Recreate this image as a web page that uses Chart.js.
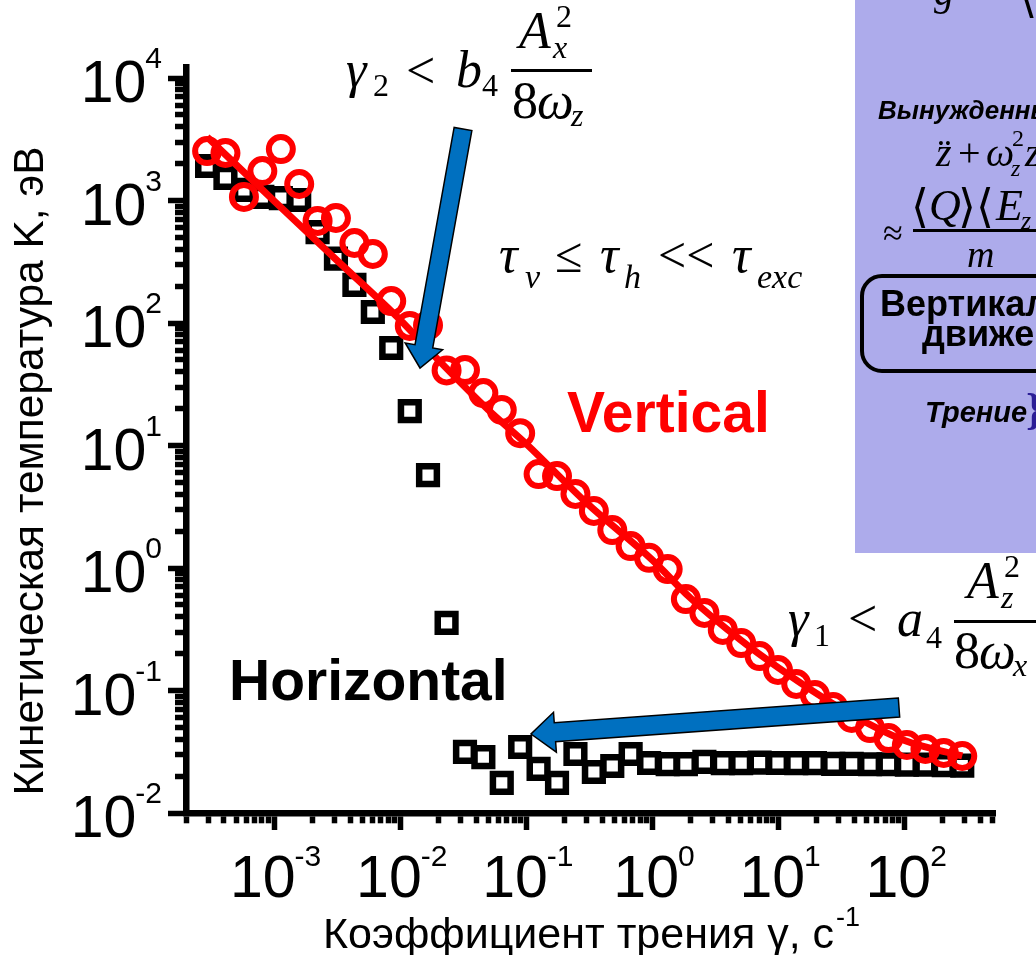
<!DOCTYPE html>
<html><head><meta charset="utf-8">
<script src="https://cdn.jsdelivr.net/npm/chart.js@4.4.1/dist/chart.umd.min.js"></script>
<style>html,body{margin:0;padding:0;background:#fff;overflow:hidden}#wrap{width:1036px;height:955px}</style>
</head><body><div id="wrap"><canvas id="c" width="1036" height="955"></canvas></div>
<script>
// ---- data ----
const gammaValues = [2.94e-4, 4.11e-4, 5.76e-4, 8.06e-4, 1.13e-3, 1.58e-3, 2.21e-3, 3.09e-3, 4.33e-3, 6.06e-3,
  8.48e-3, 1.19e-2, 1.66e-2, 2.33e-2, 3.26e-2, 4.56e-2, 6.38e-2, 8.93e-2, 0.125, 0.175,
  0.245, 0.343, 0.480, 0.671, 0.940, 1.32, 1.84, 2.58, 3.61, 5.05,
  7.07, 9.89, 13.8, 19.4, 27.1, 38.0, 53.1, 74.4, 104, 146, 204, 286];
const verticalK = [2535, 2443, 1069, 1741, 2630, 1364, 681, 720, 450, 366,
  151, 94.6, 96, 41.0, 41.3, 26.8, 19.5, 12.6, 5.85, 5.63,
  4.02, 2.92, 2.04, 1.51, 1.21, 0.98, 0.558, 0.430, 0.312, 0.244,
  0.191, 0.147, 0.113, 0.0919, 0.0733, 0.0597, 0.0494, 0.0409, 0.0359, 0.0333, 0.0309, 0.0292];
const horizontalK = [1914, 1528, 1220, 1069, 1047, 1009, 552, 335, 205, 123,
  62.5, 19.1, 5.74, 0.356, 0.0315, 0.0286, 0.0176, 0.0346, 0.0229, 0.0176,
  0.0303, 0.0216, 0.0242, 0.0303, 0.0256, 0.0251, 0.0251, 0.0261, 0.0255, 0.0255,
  0.0258, 0.0256, 0.0255, 0.0255, 0.0252, 0.0252, 0.0250, 0.0250, 0.0248, 0.0248, 0.0246, 0.0244];
const fitGamma = [2.94e-4, 1e-3, 3e-3, 1e-2, 2e-2, 5e-2, 0.1, 0.3, 1, 2, 5, 10, 30, 100, 286];
const fitK = [3300, 990, 340, 106, 50, 19.5, 10.3, 3.4, 1.16, 0.569, 0.258, 0.153, 0.073, 0.039, 0.0292];
const xTickExponents = [-3, -2, -1, 0, 1, 2];
const yTickExponents = [-2, -1, 0, 1, 2, 3, 4];
const xAxisTitle = 'Коэффициент трения γ, с';
const xAxisTitleSup = '-1';
const yAxisTitle = 'Кинетическая температура K, эВ';

const SANS = '"Liberation Sans", Arial, sans-serif';
const SERIF = '"Liberation Serif", "Times New Roman", serif';

function logTicks(min, max) {
  const out = [];
  const e0 = Math.floor(Math.log10(min)), e1 = Math.ceil(Math.log10(max));
  for (let e = e0; e <= e1; e++) {
    for (let m = 1; m <= 9; m++) {
      const v = m * Math.pow(10, e);
      if (v >= min * 0.999 && v <= max * 1.001) out.push({value: v, major: m === 1});
    }
  }
  return out;
}

function arrow(ctx, x0, y0, x1, y1, sw, hw, hl) {
  const dx = x1 - x0, dy = y1 - y0, L = Math.hypot(dx, dy), ux = dx / L, uy = dy / L, nx = -uy, ny = ux;
  const bx = x1 - ux * hl, by = y1 - uy * hl;
  ctx.beginPath();
  ctx.moveTo(x0 + nx * sw / 2, y0 + ny * sw / 2);
  ctx.lineTo(bx + nx * sw / 2, by + ny * sw / 2);
  ctx.lineTo(bx + nx * hw / 2, by + ny * hw / 2);
  ctx.lineTo(x1, y1);
  ctx.lineTo(bx - nx * hw / 2, by - ny * hw / 2);
  ctx.lineTo(bx - nx * sw / 2, by - ny * sw / 2);
  ctx.lineTo(x0 - nx * sw / 2, y0 - ny * sw / 2);
  ctx.closePath();
  ctx.fillStyle = '#0070C0'; ctx.fill();
  ctx.lineWidth = 1.5; ctx.strokeStyle = '#000'; ctx.lineJoin = 'miter'; ctx.stroke();
}

function txt(ctx, s, x, y, font, color, align) {
  ctx.font = font; ctx.fillStyle = color || '#000'; ctx.textAlign = align || 'left'; ctx.textBaseline = 'alphabetic';
  ctx.fillText(s, x, y);
}

const panelPlugin = {
  id: 'panel',
  beforeDatasetsDraw(chart) {
    const ctx = chart.ctx; ctx.save();
    ctx.fillStyle = '#ADABEB'; ctx.fillRect(855, 0, 181, 553);
    txt(ctx, 'g', 934, 5, 'italic 40px ' + SERIF);
    txt(ctx, '\u27E8(', 1020, 12, '44px "DejaVu Serif", serif');
    txt(ctx, 'Вынужденные', 878, 119, 'italic bold 26px ' + SANS);
    txt(ctx, 'z\u0308', 936, 166, 'italic 40px ' + SERIF);
    txt(ctx, '+', 958, 166, '40px ' + SERIF);
    txt(ctx, 'ω', 986, 166, 'italic 40px ' + SERIF);
    txt(ctx, '2', 1012, 146, '24px ' + SERIF);
    txt(ctx, 'z', 1011, 176, 'italic 24px ' + SERIF);
    txt(ctx, 'z', 1025, 166, 'italic 40px ' + SERIF);
    txt(ctx, '≈', 883, 245, '36px ' + SERIF);
    txt(ctx, '\u27E8', 911, 222, '46px "DejaVu Serif", serif');
    txt(ctx, 'Q', 929, 220, 'italic 44px ' + SERIF);
    txt(ctx, '\u27E9\u27E8', 958, 222, '46px "DejaVu Serif", serif');
    txt(ctx, 'E', 996, 220, 'italic 44px ' + SERIF);
    txt(ctx, 'z', 1021, 229, 'italic 26px ' + SERIF);
    ctx.fillStyle = '#000'; ctx.fillRect(913, 229, 130, 3);
    txt(ctx, 'm', 967, 267, 'italic 38px ' + SERIF);
    ctx.beginPath(); ctx.lineWidth = 4; ctx.strokeStyle = '#000';
    if (ctx.roundRect) ctx.roundRect(862, 276, 260, 95, 20); else ctx.rect(862, 276, 260, 95);
    ctx.stroke();
    txt(ctx, 'Вертикальное', 880, 316, 'bold 36px ' + SANS);
    txt(ctx, 'движение', 922, 346, 'bold 36px ' + SANS);
    txt(ctx, 'Трение', 925, 422, 'italic bold 29px ' + SANS);
    txt(ctx, '}', 1026, 424, 'bold 44px ' + SERIF, '#2B1E96');
    ctx.restore();
  },
  afterDatasetsDraw(chart) {
    const ctx = chart.ctx; ctx.save();
    arrow(ctx, 463, 129, 420, 368, 18, 38, 22);
    arrow(ctx, 899, 707.5, 531, 734, 19, 40, 24);
    txt(ctx, 'Vertical', 567, 432, 'bold 57px ' + SANS, '#FF0000');
    txt(ctx, 'Horizontal', 229, 700, 'bold 57px ' + SANS, '#000');
    // top formula
    const M = 'italic 52px ' + SERIF, U = '52px ' + SERIF, Ms = 'italic 32px ' + SERIF, Us = '32px ' + SERIF;
    txt(ctx, 'γ', 346, 87, M); txt(ctx, '2', 373, 96, Us);
    txt(ctx, '<', 406, 88, U);
    txt(ctx, 'b', 456, 87, M); txt(ctx, '4', 482, 96, Us);
    txt(ctx, 'A', 519, 48, M); txt(ctx, '2', 556, 27, Us); txt(ctx, 'x', 553, 58, Ms);
    ctx.fillStyle = '#000'; ctx.fillRect(511, 69, 81, 3);
    txt(ctx, '8', 512, 118, U); txt(ctx, 'ω', 537, 118, M); txt(ctx, 'z', 571, 126, Ms);
    // bottom formula
    txt(ctx, 'γ', 788, 636, M); txt(ctx, '1', 814, 646, Us);
    txt(ctx, '<', 848, 636, U);
    txt(ctx, 'a', 897, 636, M); txt(ctx, '4', 926, 648, Us);
    txt(ctx, 'A', 967, 598, M); txt(ctx, '2', 1004, 577, Us); txt(ctx, 'z', 1001, 608, Ms);
    ctx.fillStyle = '#000'; ctx.fillRect(954, 620, 90, 3);
    txt(ctx, '8', 954, 668, U); txt(ctx, 'ω', 979, 668, M); txt(ctx, 'x', 1013, 676, Ms);
    // tau relation
    const T = 'italic 52px ' + SERIF, Ts = 'italic 34px ' + SERIF, Tu = '50px ' + SERIF;
    txt(ctx, 'τ', 499, 272, T); txt(ctx, 'v', 525, 288, Ts);
    txt(ctx, '≤', 555, 272, Tu);
    txt(ctx, 'τ', 600, 272, T); txt(ctx, 'h', 624, 288, Ts);
    txt(ctx, '<<', 658, 272, Tu);
    txt(ctx, 'τ', 732, 272, T); txt(ctx, 'exc', 757, 288, Ts);
    ctx.restore();
  },
  afterDraw(chart) {
    const ctx = chart.ctx, xs = chart.scales.x, ys = chart.scales.y;
    ctx.save();
    const big = '59px ' + SANS, small = '30px ' + SANS;
    for (const e of yTickExponents) {
      const py = ys.getPixelForValue(Math.pow(10, e));
      const es = String(e);
      ctx.font = small; const we = ctx.measureText(es).width;
      txt(ctx, es, 162 - we, py - 10, small);
      txt(ctx, '10', 162 - we + 1, py + 24, big, '#000', 'right');
    }
    for (const e of xTickExponents) {
      const px = xs.getPixelForValue(Math.pow(10, e));
      const es = String(e);
      ctx.font = small; const we = ctx.measureText(es).width;
      ctx.font = big; const wb = ctx.measureText('10').width;
      const x0 = px - (wb + we) / 2 + 2;
      txt(ctx, '10', x0, 897, big);
      txt(ctx, es, x0 + wb - 1, 866, small);
    }
    const tf = '43px ' + SANS;
    txt(ctx, xAxisTitle, 323, 948, tf);
    ctx.font = tf; const wt = ctx.measureText(xAxisTitle).width;
    txt(ctx, xAxisTitleSup, 323 + wt + 2, 926, '27px ' + SANS);
    ctx.save(); ctx.translate(43, 471); ctx.rotate(-Math.PI / 2);
    txt(ctx, yAxisTitle, 0, 0, '42.5px ' + SANS, '#000', 'center');
    ctx.restore();
    ctx.restore();
  }
};

const gridCommon = (leftSide) => ({
  display: true, drawOnChartArea: false, drawTicks: true,
  tickLength: leftSide ? 18 : 17, tickWidth: 5.5, tickColor: '#000',
  tickBorderDash: (c) => (c.tick && c.tick.major) ? [] : (leftSide ? [0, 7, 100] : [6.8, 100])
});

new Chart(document.getElementById('c'), {
  type: 'scatter',
  data: {
    datasets: [
      { label: 'Vertical', data: gammaValues.map((g, i) => ({x: g, y: verticalK[i]})),
        pointStyle: 'circle', pointRadius: 12, pointBorderWidth: 6, pointBorderColor: '#FF0000',
        pointBackgroundColor: 'rgba(0,0,0,0)', showLine: false, order: 0, clip: false },
      { label: 'fit', data: fitGamma.map((g, i) => ({x: g, y: fitK[i]})), showLine: true,
        borderColor: '#FF0000', borderWidth: 7, pointRadius: 0, cubicInterpolationMode: 'monotone', order: 1, clip: false },
      { label: 'Horizontal', data: gammaValues.map((g, i) => ({x: g, y: horizontalK[i]})),
        pointStyle: 'rect', pointRadius: 12.5, pointBorderWidth: 6.5, pointBorderColor: '#000',
        pointBackgroundColor: 'rgba(0,0,0,0)', showLine: false, order: 2, clip: false }
    ]
  },
  options: {
    responsive: false, animation: false, devicePixelRatio: 1,
    layout: { padding: { left: 0, top: 67, right: 41, bottom: 0 } },
    plugins: { legend: { display: false }, tooltip: { enabled: false } },
    scales: {
      x: { type: 'logarithmic', position: 'bottom', min: 2e-4, max: 520,
        afterBuildTicks: (s) => { s.ticks = logTicks(2e-4, 520); },
        afterFit: (s) => { s.height = 142; },
        ticks: { display: false },
        grid: gridCommon(false),
        border: { display: true, width: 6.5, color: '#000' } },
      y: { type: 'logarithmic', position: 'left', min: 0.01, max: 12300,
        afterBuildTicks: (s) => { s.ticks = logTicks(0.01, 12300); },
        afterFit: (s) => { s.width = 186; },
        ticks: { display: false },
        grid: gridCommon(true),
        border: { display: true, width: 6.5, color: '#000' } }
    }
  },
  plugins: [panelPlugin]
});
</script></body></html>
